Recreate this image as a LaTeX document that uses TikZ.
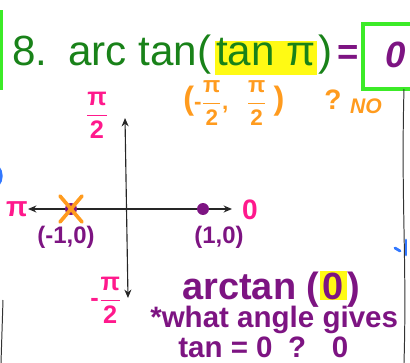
\documentclass[tikz,border=0pt]{standalone}
\usepackage{fontspec}
\usepackage{amsmath}
\setmainfont{Liberation Sans}
\usetikzlibrary{positioning,arrows.meta}
\definecolor{titlegreen}{RGB}{25,130,25}
\definecolor{boxgreen}{RGB}{60,235,40}
\definecolor{inkpurple}{RGB}{125,20,130}
\definecolor{inkpink}{RGB}{255,25,140}
\definecolor{inkorange}{RGB}{255,155,30}
\definecolor{hlyellow}{RGB}{255,250,20}
\definecolor{inkblue}{RGB}{50,120,255}
\newcommand{\halfpi}{$\dfrac{\text{π}}{\text{2}}$}
\newcommand{\smallhalfpi}{$\genfrac{}{}{0.6pt}{0}{\text{π}}{\text{2}}$}
\newcommand{\bigparen}[1]{{\fontsize{23}{25}\selectfont #1}}
\begin{document}
\begin{tikzpicture}[x=0.025cm,y=-0.025cm,
  title/.style={inner sep=0pt, text=titlegreen, font=\fontsize{30}{32}\selectfont},
  purple ink/.style={inner sep=0pt, text=inkpurple, font=\bfseries\fontsize{17}{19}\selectfont},
  pink ink/.style={inner sep=0pt, text=inkpink, font=\bfseries\fontsize{18}{20}\selectfont},
  axis/.style={black!85, line width=0.8pt, {Stealth[length=6pt,width=5pt]}-{Stealth[length=6pt,width=5pt]}},
  dot/.style={circle, fill=inkpurple, inner sep=0pt, minimum size=8.5pt}]
\useasboundingbox (0,0) rectangle (410,363);
\clip (0,0) rectangle (410,363);
% edges of the neighbouring frames
\draw[boxgreen, line width=2.4pt] (1,10) -- (1,90);
\draw[inkblue, line width=2.4pt] (-9,176) ellipse (10 and 12);
\draw[black!80, line width=0.7pt] (3,300) -- (1,363);
% the question
\node[title, anchor=base west] (num) at (12,65) {8.};
\node[title, anchor=base west] (arc) at (68,65) {arc tan(};
\node[title, fill=hlyellow, text height=17pt, text depth=7pt, inner xsep=1pt, base right=2pt of arc] (tanpi) {tan π};
\node[title, base right=1pt of tanpi] (close) {)};
\node[text=inkpurple, font=\bfseries\fontsize{26}{28}\selectfont, inner sep=0pt] (eq) at (348,55) {=};
\draw[boxgreen, line width=2.4pt] (363,24) rectangle (425,89);
\node[text=inkpurple, font=\bfseries\itshape\fontsize{26}{28}\selectfont, inner sep=0pt] (ans) at (396,55) {0};
\draw[black!80, line width=0.7pt] (404,89) .. controls (401,200) and (407,260) .. (404,363);
\draw[inkblue, line width=2pt, line cap=round] (395,248) -- (400,251);
\draw[inkblue, line width=2pt, line cap=round] (406,240) -- (406,255);
% range of arctan
\node[text=inkorange, font=\bfseries\fontsize{16}{18}\selectfont, inner sep=0pt, text height=12pt, text depth=7pt, anchor=base west] (range) at (183,109)
  {\bigparen{(}-\smallhalfpi,\hspace{0.8em}\smallhalfpi\hspace{0.3em}\bigparen{)}};
\node[text=inkorange, font=\bfseries\fontsize{20}{22}\selectfont, inner sep=0pt] (ask) at (333,100) {?};
\node[text=inkorange, font=\bfseries\itshape\fontsize{15}{17}\selectfont, inner sep=0pt] (no) at (366,106) {NO};
% axes
\coordinate (xl) at (28,209);
\coordinate (xr) at (232,209);
\coordinate (yt) at (125,118);
\coordinate (yb) at (128,298);
\draw[axis] (xl) -- (xr);
\draw[axis] (yt) -- (yb);
\node[pink ink] (top) at (97,115) {\halfpi};
\node[pink ink] (bottom) at (106,300) {-\halfpi};
\node[pink ink, font=\bfseries\fontsize{20}{22}\selectfont] (pi) at (17,209) {π};
\node[pink ink, font=\bfseries\fontsize{20}{22}\selectfont] (zero) at (250,210) {0};
% points on the circle
\node[dot] (m1) at (71,209) {};
\node[dot] (p1) at (203,209) {};
\draw[inkorange, line width=2.6pt, line cap=round] ([shift={(-11,-13)}]m1.center) -- ([shift={(11,13)}]m1.center);
\draw[inkorange, line width=2.6pt, line cap=round] ([shift={(11,-13)}]m1.center) -- ([shift={(-11,13)}]m1.center);
\node[purple ink] (lm1) at (66,237) {(-1,0)};
\node[purple ink] (lp1) at (219,237) {(1,0)};
% what angle
\node[purple ink, font=\bfseries\fontsize{27}{29}\selectfont, anchor=base west] (atan) at (182,299) {arctan (};
\node[purple ink, font=\bfseries\fontsize{27}{29}\selectfont, fill=hlyellow, text height=20pt, text depth=1pt, inner xsep=2pt, base right=0pt of atan] (arg) {0};
\node[purple ink, font=\bfseries\fontsize{27}{29}\selectfont, base right=0pt of arg] (argclose) {)};
\node[purple ink, font=\bfseries\fontsize{21}{23}\selectfont, anchor=base west] (why) at (150,327) {*what angle gives};
\node[purple ink, font=\bfseries\fontsize{21}{23}\selectfont, anchor=base west] (why2) at (178,357) {tan = 0 \hspace{0.25em}? \hspace{0.5em}0};
\end{tikzpicture}
\end{document}
